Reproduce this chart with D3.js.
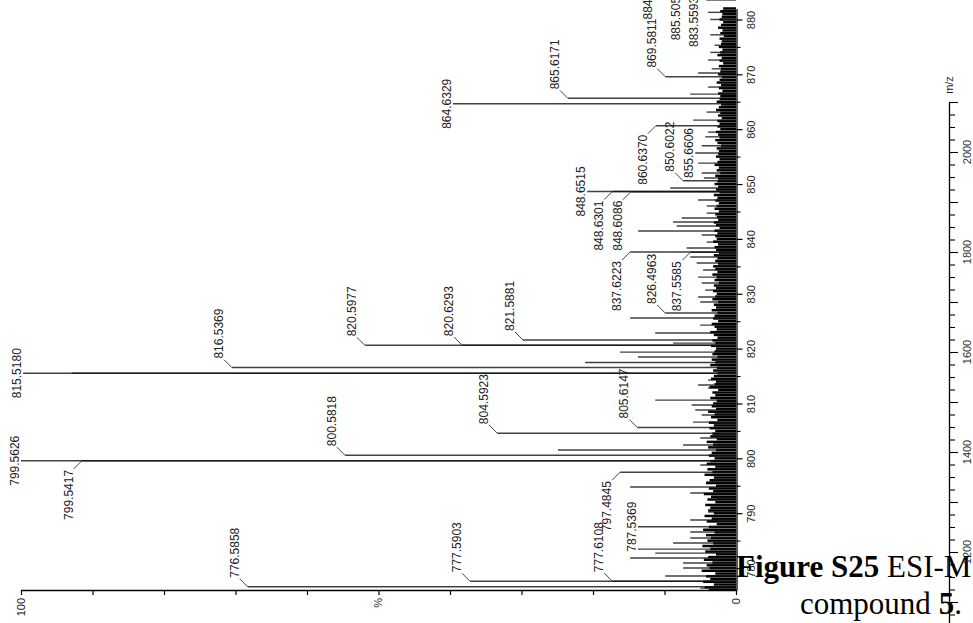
<!DOCTYPE html>
<html>
<head>
<meta charset="utf-8">
<script src="https://cdn.jsdelivr.net/npm/d3@7"></script>
<style>
  body { margin: 0; background: #fff; }
  svg { display: block; }
</style>
</head>
<body>
<svg id="chart" width="973" height="623"></svg>
<script>
// ---- annotated centroid peaks (m/z, relative intensity %) ----
const peakMz = [884.5626, 885.5052, 883.5593, 869.5811, 865.6171, 864.6329, 860.6370, 855.6606,
                850.6022, 848.6515, 848.6301, 848.6086, 837.6223, 837.5585, 826.4963, 821.5881,
                820.6293, 820.5977, 816.5369, 815.5180, 805.6147, 804.5923, 800.5818, 799.5626,
                799.5417, 797.4845, 787.5369, 777.6108, 777.5903, 776.5858];
const peakIntensity = [11.5, 6.6, 4.1, 9.9, 23.5, 39.6, 11.2, 5.7,
                       7.4, 20.8, 17.3, 14.7, 14.8, 6.4, 9.9, 29.8,
                       38.3, 51.9, 70.5, 99.7, 13.8, 33.4, 54.7, 100,
                       91.5, 16.2, 13.7, 17.3, 37.2, 68.3];
// where each peak label sits: centred on the tip, above / below on a leader, or a pixel offset
const labelLayout = ['centre', 26, 22, 'above', 'above', 'centre', 'below', 'centre',
                     'above', 'centre', 'below', 'below', 'below', 'below', 'above', 'above',
                     'above', 'above', 'above', 'centre', 'above', 'above', 'above', 'centre',
                     'below', 'below', 'centre', 'above', 'above', 'above'];

// ---- unlabelled peaks ----
const minorMz = [881.3, 880.0, 877.2, 875.3, 874.0, 872.6, 871.0, 870.23, 867.68, 866.40,
                 863.12, 861.66, 859.47, 858.61, 856.97, 853.82, 852.01, 851.10, 849.28, 847.08,
                 846.00, 844.70, 843.80, 843.07, 842.34, 841.43, 840.72, 839.42, 838.33, 836.69,
                 835.60, 834.32, 833.04, 831.95, 830.67, 829.40, 828.49, 825.57, 824.29, 822.84,
                 821.01, 819.37, 818.46, 817.46, 815.50, 814.27, 813.36, 812.81, 810.62, 809.71,
                 808.80, 807.89, 806.61, 803.70, 802.42, 801.51, 798.78, 795.68, 794.77, 793.67,
                 792.76, 791.48, 790.21, 788.75, 786.56, 785.47, 784.56, 783.46, 782.73, 781.82,
                 780.91, 780.00, 778.54, 776.35];
const minorIntensity = [3.9, 3.6, 3.6, 3.0, 3.6, 3.9, 3.4, 5.3, 3.9, 6.4,
                        4.1, 6.0, 3.9, 4.3, 4.8, 5.3, 4.8, 4.5, 9.2, 5.3,
                        4.1, 4.1, 7.6, 8.8, 8.3, 13.7, 4.8, 4.1, 6.9, 6.4,
                        5.5, 4.6, 5.3, 4.8, 4.3, 5.3, 5.0, 14.8, 5.0, 11.3,
                        8.8, 16.2, 13.7, 21.1, 92.9, 3.9, 5.3, 3.9, 11.3, 6.2,
                        5.7, 4.8, 6.0, 5.0, 7.4, 24.9, 5.0, 4.1, 14.8, 6.4,
                        2.7, 3.2, 3.9, 6.4, 6.4, 6.4, 8.8, 13.7, 11.3, 14.8,
                        7.4, 7.4, 9.9, 5.0];

// ---- baseline noise, sampled every 0.5 m/z from 776 ----
const noiseStart = 776, noiseStep = 0.5;
const noiseIntensity = [
  3.8,4.4,3.1,4.6,3.6,4.2,2.9,4.8,3.7,4.1,  3.3,4.5,3.9,2.8,4.3,3.6,4.7,3.2,4.0,3.5,
  4.2,3.0,4.6,3.8,2.7,4.1,3.4,4.4,3.1,3.9,  3.6,4.3,2.9,4.0,3.5,4.5,3.2,3.8,2.8,4.2,
  3.7,3.1,4.4,3.3,4.0,2.9,4.1,3.6,3.0,3.8,  3.4,2.8,3.9,3.2,4.1,2.7,3.6,3.3,2.9,3.7,
  3.1,3.8,2.6,3.5,3.0,3.9,2.8,3.4,3.2,2.7,  3.6,2.9,3.3,2.5,3.7,3.0,2.8,3.5,3.1,2.6,
  3.2,2.7,3.6,2.9,3.4,2.6,3.3,3.0,2.8,3.5,  2.9,3.3,2.6,3.1,3.6,2.7,3.0,3.4,2.5,3.2,
  3.0,2.6,3.4,2.8,3.1,2.5,3.3,2.9,2.7,3.2,  2.8,3.1,2.4,3.0,2.7,3.3,2.6,2.9,3.2,2.5,
  2.9,2.6,3.1,2.4,2.8,3.0,2.5,3.2,2.7,2.9,  2.6,3.0,2.3,2.8,3.1,2.5,2.7,2.9,2.4,3.0,
  2.7,2.4,2.9,2.6,3.1,2.3,2.8,2.5,3.0,2.6,  2.5,2.9,2.2,2.7,2.4,3.0,2.6,2.3,2.8,2.5,
  2.4,2.7,2.1,2.6,2.9,2.3,2.5,2.8,2.2,2.6,  2.3,2.6,2.0,2.5,2.2,2.8,2.4,2.1,2.7,2.3,
  2.2,2.5,1.9,2.4,2.1,2.7,2.3,2.0,2.5,2.2,  2.1,2.4,1.8,2.3,2.0,2.6,2.2,1.9,2.4,2.1,
  2.0,2.3,1.7,2.2,1.9,2.5,2.1,1.8,2.3,2.0,  1.9,2.2,1.8
];

// ---- axis ticks ----
const mzMajorTicks = [780, 790, 800, 810, 820, 830, 840, 850, 860, 870, 880];
const mzMinorTicks = [785, 795, 805, 815, 825, 835, 845, 855, 865, 875];
const intensityTicks = [0, 10, 20, 30, 40, 50, 60, 70, 80, 90, 100];
const intensityTickLabels = {0: '0', 100: '100'};
const wideAxisLabels = [1200, 1400, 1600, 1800, 2000];

const svg = d3.select('#chart');
const sans = 'Liberation Sans, Arial, sans-serif';

const x = d3.scaleLinear().domain([0, 100]).range([736, 21]);
const y = d3.scaleLinear().domain([776, 882]).range([590, 8.5]);

svg.append('defs').append('clipPath').attr('id', 'plotClip')
  .append('rect').attr('x', 0).attr('y', -40).attr('width', 737).attr('height', 630);

const plot = svg.append('g').attr('clip-path', 'url(#plotClip)');

// noise comb
const noise = noiseIntensity.map((v, i) => ({mz: noiseStart + i * noiseStep, v}));
plot.append('g').selectAll('line').data(noise).join('line')
  .attr('x1', x(0)).attr('x2', d => x(d.v))
  .attr('y1', d => y(d.mz)).attr('y2', d => y(d.mz))
  .attr('stroke', '#000').attr('stroke-width', 2.5);

// unlabelled peaks
const minor = minorMz.map((mz, i) => ({mz, v: minorIntensity[i]}));
plot.append('g').selectAll('line').data(minor).join('line')
  .attr('x1', x(0)).attr('x2', d => x(d.v))
  .attr('y1', d => y(d.mz)).attr('y2', d => y(d.mz))
  .attr('stroke', '#111').attr('stroke-opacity', 0.8).attr('stroke-width', 1.4);

// annotated peaks
const peaks = peakMz.map((mz, i) => ({mz, v: peakIntensity[i], place: labelLayout[i]}));
plot.append('g').selectAll('line').data(peaks).join('line')
  .attr('x1', x(0)).attr('x2', d => x(d.v))
  .attr('y1', d => y(d.mz)).attr('y2', d => y(d.mz))
  .attr('stroke', '#111').attr('stroke-opacity', 0.8).attr('stroke-width', 1.5);

// peak labels with kinked leaders
const fmt = d3.format('.4f');
const leaders = svg.append('g').attr('stroke', '#444').attr('stroke-width', 1).attr('fill', 'none');
const labels = svg.append('g').attr('font-family', sans).attr('font-size', 12).attr('fill', '#222');
peaks.forEach(p => {
  const yp = y(p.mz), xt = x(p.v);
  const t = labels.append('text').attr('text-anchor', 'middle').text(fmt(p.mz));
  const L = t.node().getComputedTextLength();
  if (p.place === 'centre') {
    t.attr('transform', `translate(${xt - 2},${yp}) rotate(-90)`);
    return;
  }
  let off;
  if (p.place === 'above') off = -(9 + L / 2);
  else if (p.place === 'below') off = 9 + L / 2;
  else off = p.place;
  const yc = yp + off, xb = xt - 9;
  t.attr('transform', `translate(${xb},${yc}) rotate(-90)`);
  const yEnd = off < 0 ? yc + L / 2 + 1 : yc - L / 2 - 1;
  leaders.append('path').attr('d', `M${xt},${yp}L${xt - 8},${yEnd}`);
});

// intensity axis (bottom)
const axI = svg.append('g').attr('transform', 'translate(0,590)')
  .call(d3.axisBottom(x).tickValues(intensityTicks).tickSize(5).tickSizeOuter(0)
    .tickFormat(d => intensityTickLabels[d] || ''));
axI.select('.domain').attr('stroke', '#000').attr('stroke-width', 1.3);
axI.selectAll('.tick line').attr('stroke', '#000').attr('stroke-width', 1.2);
axI.selectAll('.tick text')
  .attr('font-family', sans).attr('font-size', 11).attr('fill', '#222')
  .attr('text-anchor', 'end').attr('transform', 'rotate(-90)')
  .attr('x', -8).attr('y', 0).attr('dy', '0.36em');
svg.append('text').attr('font-family', sans).attr('font-size', 11).attr('fill', '#222')
  .attr('text-anchor', 'end').attr('dy', '0.36em')
  .attr('transform', `translate(${x(50)},598) rotate(-90)`).text('%');

// m/z axis (right of the spectrum)
const axM = svg.append('g').attr('transform', 'translate(736.5,0)')
  .call(d3.axisRight(y).tickValues(mzMajorTicks).tickSize(6).tickSizeOuter(0));
axM.select('.domain').attr('stroke', '#000').attr('stroke-width', 1.3);
axM.selectAll('.tick line').attr('stroke', '#000').attr('stroke-width', 1.2);
axM.selectAll('.tick text')
  .attr('font-family', sans).attr('font-size', 11).attr('fill', '#222')
  .attr('text-anchor', 'middle').attr('transform', 'rotate(-90)')
  .attr('x', 0).attr('y', 18.5).attr('dy', 0);
const axMm = svg.append('g').attr('transform', 'translate(736.5,0)')
  .call(d3.axisRight(y).tickValues(mzMinorTicks).tickSize(4).tickFormat(''));
axMm.select('.domain').remove();
axMm.selectAll('.tick line').attr('stroke', '#000').attr('stroke-width', 1.1);

// caption
const cap = svg.append('g').attr('font-family', 'Liberation Serif, Times New Roman, serif')
  .attr('font-size', 31).attr('fill', '#000');
const line1 = cap.append('text').attr('x', 736).attr('y', 577);
line1.append('tspan').attr('font-weight', 'bold').text('Figure S25');
line1.append('tspan').text(' ESI-MS spectrum of');
const line2 = cap.append('text').attr('x', 800).attr('y', 614);
line2.append('tspan').text('compound ');
line2.append('tspan').attr('font-weight', 'bold').text('5');
line2.append('tspan').text('.');

// wide-range m/z axis at the right edge
const y2 = d3.scaleLinear().domain([1050, 2100]).range([627, 102]);
const ax2 = svg.append('g').attr('transform', 'translate(949,0)')
  .call(d3.axisRight(y2).tickValues(d3.range(1075, 2101, 25)).tickSize(6).tickSizeOuter(0).tickFormat(''));
ax2.select('.domain').attr('stroke', '#000').attr('stroke-width', 1.3);
ax2.selectAll('.tick line').attr('stroke', '#000').attr('stroke-width', 1.1)
  .attr('x2', d => d % 100 === 0 ? 9 : 6);
svg.append('g').attr('font-family', sans).attr('font-size', 11).attr('fill', '#333')
  .selectAll('text').data(wideAxisLabels).join('text')
  .attr('text-anchor', 'middle')
  .attr('transform', d => `translate(971,${y2(d)}) rotate(-90)`)
  .text(d => d);
svg.append('text').attr('font-family', sans).attr('font-size', 11).attr('fill', '#222')
  .attr('text-anchor', 'middle')
  .attr('transform', 'translate(953,85) rotate(-90)').text('m/z');
</script>
</body>
</html>
